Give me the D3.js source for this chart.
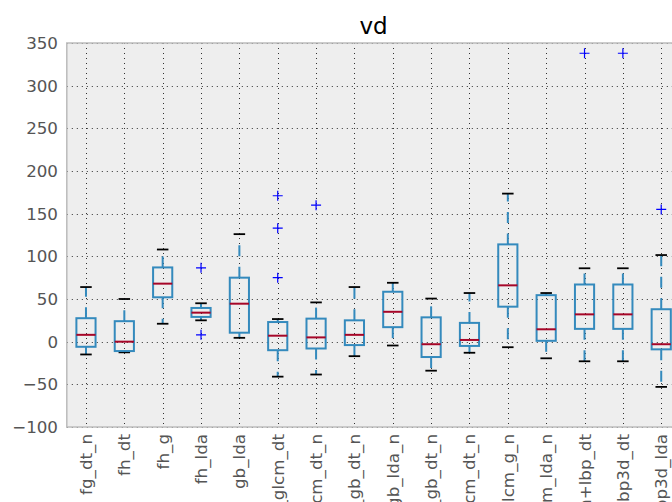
<!DOCTYPE html>
<html>
<head>
<meta charset="utf-8">
<script src="https://cdn.jsdelivr.net/npm/d3@7"></script>
<style>
  html, body { margin: 0; padding: 0; background: #fff; overflow: hidden; }
  svg { display: block; font-family: "DejaVu Sans", sans-serif; }
</style>
</head>
<body>
<svg id="chart" width="672" height="502"></svg>
<script>
// Feature-set names along the x axis
const categories = [
  "fg_dt_n", "fh_dt", "fh_g", "fh_lda", "gb_lda",
  "fh_glcm_dt", "fg_glcm_dt_n", "fg_gb_dt_n", "fh_gb_lda_n", "fh_gb_dt_n",
  "glcm_dt_n", "glcm_g_n", "glcm_lda_n", "glcm+lbp_dt", "lbp3d_dt", "lbp3d_lda"
];

// Box statistics per category
const q1 =          [-6, -11, 52, 29, 10.5, -10, -8, -4, 17, -18, -5, 41, 1, 15, 15, -9];
const medians =     [8, 0, 68, 34, 44.5, 7, 5, 8, 35, -3, 2, 66, 14.5, 32, 32, -3];
const q3 =          [27.5, 24, 87, 39.5, 75, 23, 27, 25, 58.5, 28.5, 22, 114, 54.5, 67, 67, 38];
const whiskerLow =  [-15, -12.5, 21, 25, 4.5, -41, -38.5, -17, -4.5, -34, -13, -6.5, -19.5, -23, -23, -53];
const whiskerHigh = [64, 50, 108, 45, 126, 26.5, 46, 64, 69, 50.5, 57, 173.5, 57, 86, 86, 101.5];
const fliers = [
  [], [], [], [86.5, 8], [],
  [171, 133, 75], [160], [], [], [],
  [], [], [], [338], [338], [155]
];

const yTicks = [-100, -50, 0, 50, 100, 150, 200, 250, 300, 350];

const margin = { left: 66.8, top: 43, right: 680.4, bottom: 427 };
const svg = d3.select("#chart");

const x = d3.scalePoint().domain(categories)
  .range([margin.left, margin.right]).padding(0.5);
const y = d3.scaleLinear().domain([-100, 350]).range([margin.bottom, margin.top]);
const step = x.step();

// Axes background
svg.append("rect")
  .attr("x", margin.left).attr("y", margin.top)
  .attr("width", margin.right - margin.left)
  .attr("height", margin.bottom - margin.top)
  .attr("fill", "#eeeeee");

// Dotted grid
const grid = svg.append("g").attr("stroke", "#000").attr("stroke-opacity", 0.8)
  .attr("stroke-width", 1).attr("stroke-dasharray", "1,4");
grid.selectAll("line.h").data(yTicks).join("line")
  .attr("class", "h")
  .attr("x1", margin.left).attr("x2", margin.right)
  .attr("y1", d => Math.round(y(d)) + 0.5).attr("y2", d => Math.round(y(d)) + 0.5);
grid.selectAll("line.v").data(categories).join("line")
  .attr("class", "v")
  .attr("x1", d => Math.round(x(d)) + 0.5).attr("x2", d => Math.round(x(d)) + 0.5)
  .attr("y1", margin.top).attr("y2", margin.bottom);

// Frame
svg.append("rect")
  .attr("x", margin.left).attr("y", margin.top)
  .attr("width", margin.right - margin.left)
  .attr("height", margin.bottom - margin.top)
  .attr("fill", "none").attr("stroke", "#bcbcbc").attr("stroke-width", 1.5);

const blue = "#348ABD";
const boxW = step * 0.5;
const capW = step * 0.3;

const boxes = svg.append("g").selectAll("g").data(categories).join("g")
  .attr("transform", d => `translate(${x(d)},0)`);

// Whiskers (dashed), drawn outward from the box edges
boxes.append("line")
  .attr("y1", (d, i) => y(q3[i])).attr("y2", (d, i) => y(whiskerHigh[i]))
  .attr("stroke", blue).attr("stroke-width", 2).attr("stroke-dasharray", "11,10.5");
boxes.append("line")
  .attr("y1", (d, i) => y(q1[i])).attr("y2", (d, i) => y(whiskerLow[i]))
  .attr("stroke", blue).attr("stroke-width", 2).attr("stroke-dasharray", "11,10.5");

// Caps
boxes.append("line")
  .attr("x1", -capW / 2).attr("x2", capW / 2)
  .attr("y1", (d, i) => y(whiskerHigh[i])).attr("y2", (d, i) => y(whiskerHigh[i]))
  .attr("stroke", "#000").attr("stroke-width", 1.8);
boxes.append("line")
  .attr("x1", -capW / 2).attr("x2", capW / 2)
  .attr("y1", (d, i) => y(whiskerLow[i])).attr("y2", (d, i) => y(whiskerLow[i]))
  .attr("stroke", "#000").attr("stroke-width", 1.8);

// Boxes
boxes.append("rect")
  .attr("x", -boxW / 2).attr("width", boxW)
  .attr("y", (d, i) => y(q3[i]))
  .attr("height", (d, i) => y(q1[i]) - y(q3[i]))
  .attr("fill", "none").attr("stroke", blue).attr("stroke-width", 2);

// Medians
boxes.append("line")
  .attr("x1", -boxW / 2).attr("x2", boxW / 2)
  .attr("y1", (d, i) => y(medians[i])).attr("y2", (d, i) => y(medians[i]))
  .attr("stroke", "#A60628").attr("stroke-width", 2);

// Outliers as '+' markers
const ms = 5;
boxes.each(function (d, i) {
  const g = d3.select(this);
  fliers[i].forEach(v => {
    g.append("path")
      .attr("d", `M${-ms},${y(v)}H${ms}M0,${y(v) - ms}V${y(v) + ms}`)
      .attr("stroke", "#0000ff").attr("stroke-width", 1.2).attr("fill", "none");
  });
});

// Y tick labels
svg.append("g").selectAll("text").data(yTicks).join("text")
  .attr("x", 58).attr("y", d => y(d)).attr("dy", "0.36em")
  .attr("text-anchor", "end")
  .attr("font-size", 16.7).attr("fill", "#555555")
  .text(d => d < 0 ? "\u2212" + Math.abs(d) : d);

// X tick labels, rotated
svg.append("g").selectAll("text").data(categories).join("text")
  .attr("transform", d => `translate(${x(d)},434) rotate(-90)`)
  .attr("dy", "0.36em")
  .attr("text-anchor", "end")
  .attr("font-size", 16.7).attr("fill", "#555555")
  .text(d => d);

// Title
svg.append("text")
  .attr("x", (margin.left + margin.right) / 2).attr("y", 34)
  .attr("text-anchor", "middle")
  .attr("font-size", 23).attr("fill", "#000")
  .text("vd");
</script>
</body>
</html>
